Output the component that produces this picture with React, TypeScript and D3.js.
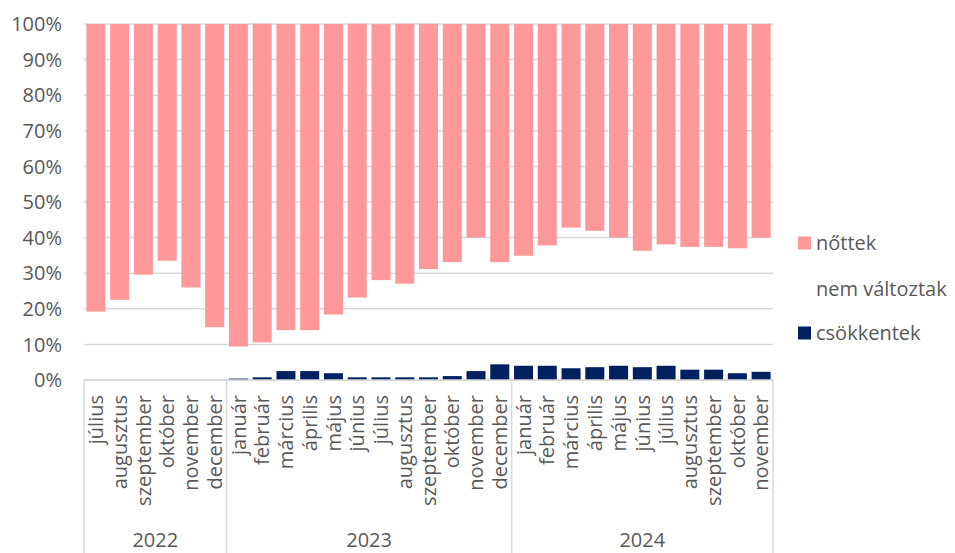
import * as d3 from "d3";

const months = [
  "július", "augusztus", "szeptember", "október", "november", "december",
  "január", "február", "március", "április", "május", "június",
  "július", "augusztus", "szeptember", "október", "november", "december",
  "január", "február", "március", "április", "május", "június",
  "július", "augusztus", "szeptember", "október", "november",
];
const years = ["2022", "2023", "2024"];
const yearCounts = [6, 12, 11];

// shares in %, bottom to top
const csokkentek = [
  0, 0, 0, 0, 0, 0,
  0.4, 0.75, 2.5, 2.5, 1.9, 0.75, 0.75, 0.75, 0.75, 1.1, 2.5, 4.4,
  4.0, 4.0, 3.3, 3.6, 4.0, 3.6, 4.0, 2.9, 2.9, 1.9, 2.3,
];
const nemValtoztak = [
  19.2, 22.5, 29.6, 33.5, 26.0, 14.8,
  9.0, 9.8, 11.5, 11.5, 16.5, 22.4, 27.3, 26.3, 30.4, 32.0, 37.5, 28.7,
  30.9, 33.8, 39.5, 38.3, 36.0, 32.7, 34.1, 34.5, 34.5, 35.1, 37.7,
];
const nottek = [
  80.8, 77.5, 70.4, 66.5, 74.0, 85.2,
  90.6, 89.5, 86.0, 86.0, 81.6, 76.9, 71.9, 73.0, 68.9, 66.9, 60.0, 66.9,
  65.1, 62.2, 57.2, 58.1, 60.0, 63.7, 61.9, 62.6, 62.6, 63.0, 60.0,
];
const yTicks = [0, 10, 20, 30, 40, 50, 60, 70, 80, 90, 100];

const seriesKeys = ["csökkentek", "nem változtak", "nőttek"];
const colors: { [k: string]: string } = {
  "csökkentek": "#002060",
  "nem változtak": "none",
  "nőttek": "#FF9999",
};

const W = 955;
const H = 553;
const left = 84;
const right = 773;
const top = 24;
const bottom = 380;
const font = "'Open Sans', sans-serif";
const textColor = "#595959";
const gridColor = "#d9d9d9";

export default function App() {
  const rows = months.map((m, i) => ({
    idx: String(i),
    "csökkentek": csokkentek[i],
    "nem változtak": nemValtoztak[i],
    "nőttek": nottek[i],
  }));

  const x = d3
    .scaleBand()
    .domain(rows.map((r) => r.idx))
    .range([left, right])
    .paddingInner(0.2)
    .paddingOuter(0.1);
  const y = d3.scaleLinear().domain([0, 100]).range([bottom, top]);

  const stacked = d3.stack<any>().keys(seriesKeys)(rows);

  // year group boundaries on the category axis
  let acc = 0;
  const groups = years.map((yr, i) => {
    const start = acc;
    acc += yearCounts[i];
    return { yr, start, end: acc };
  });
  const bx = (n: number) => left + (n / months.length) * (right - left);

  const legend = [
    { key: "nőttek", y: 243 },
    { key: "nem változtak", y: 289 },
    { key: "csökkentek", y: 333 },
  ];

  return (
    <svg
      width={W}
      height={H}
      style={{ position: "absolute", left: 0, top: 0, background: "#fff" }}
      fontFamily={font}
    >
      {/* gridlines */}
      {yTicks.map((t) => (
        <line
          key={"g" + t}
          x1={left}
          x2={right}
          y1={y(t)}
          y2={y(t)}
          stroke={gridColor}
          strokeWidth={1.5}
        />
      ))}
      {yTicks.map((t) => (
        <text
          key={"t" + t}
          x={62}
          y={y(t)}
          dy="0.36em"
          textAnchor="end"
          fontSize={20}
          fill={textColor}
        >
          {t + "%"}
        </text>
      ))}

      {/* bars */}
      {stacked.map((s) =>
        colors[s.key] === "none"
          ? null
          : s.map((d, i) => (
              <rect
                key={s.key + i}
                x={x(String(i))}
                width={x.bandwidth()}
                y={y(d[1])}
                height={Math.max(0, y(d[0]) - y(d[1]))}
                fill={colors[s.key]}
              />
            ))
      )}

      {/* category axis box */}
      <line x1={left} x2={right} y1={bottom} y2={bottom} stroke={gridColor} strokeWidth={1.5} />
      {[0, ...groups.map((g) => g.end)].map((n) => (
        <line
          key={"v" + n}
          x1={bx(n)}
          x2={bx(n)}
          y1={bottom}
          y2={H}
          stroke={gridColor}
          strokeWidth={1.5}
        />
      ))}
      {months.map((m, i) => {
        const cx = (x(String(i)) as number) + x.bandwidth() / 2;
        return (
          <text
            key={"m" + i}
            transform={`translate(${cx},395) rotate(-90)`}
            textAnchor="end"
            dy="0.36em"
            fontSize={20}
            fill={textColor}
          >
            {m}
          </text>
        );
      })}
      {groups.map((g) => (
        <text
          key={g.yr}
          x={(bx(g.start) + bx(g.end)) / 2}
          y={547}
          textAnchor="middle"
          fontSize={20}
          fill={textColor}
        >
          {g.yr}
        </text>
      ))}

      {/* legend */}
      {legend.map((l) => (
        <g key={l.key}>
          {colors[l.key] !== "none" && (
            <rect x={798} y={l.y - 6.5} width={13} height={13} fill={colors[l.key]} />
          )}
          <text x={816} y={l.y} dy="0.36em" fontSize={20} fill={textColor}>
            {l.key}
          </text>
        </g>
      ))}
    </svg>
  );
}
